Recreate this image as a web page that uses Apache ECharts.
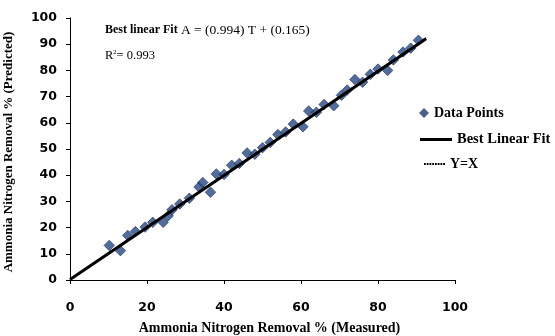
<!DOCTYPE html>
<html>
<head>
<meta charset="utf-8">
<script src="https://cdn.jsdelivr.net/npm/echarts@6/dist/echarts.min.js"></script>
<style>
  html, body { margin: 0; padding: 0; background: #fff; }
  #chart { width: 555px; height: 336px; }
</style>
</head>
<body>
<div id="chart"></div>
<script>
// Measured vs. predicted ammonia nitrogen removal (%)
const measured = [10.2, 13.1, 15.0, 17.0, 19.5, 21.5, 24.2, 25.5, 26.5, 28.5,
                  31.0, 33.5, 34.5, 36.5, 38.0, 40.0, 42.0, 44.0, 46.0, 48.0,
                  50.0, 52.0, 54.0, 56.0, 58.0, 60.5, 62.0, 64.0, 66.0, 68.5,
                  70.5, 72.0, 74.0, 76.0, 78.0, 80.0, 82.5, 84.0, 86.5, 88.5, 90.5];
const predicted = [13.2, 11.2, 17.0, 18.5, 20.2, 22.0, 22.0, 24.5, 26.8, 29.0,
                   31.2, 35.5, 37.2, 33.5, 40.5, 40.3, 43.8, 44.5, 48.5, 48.0,
                   50.5, 52.5, 55.5, 56.5, 59.5, 58.5, 64.5, 64.0, 67.0, 66.5,
                   70.5, 72.5, 76.5, 75.5, 78.5, 80.5, 80.0, 84.0, 87.0, 88.5, 91.5];

// Fitted line A = 0.994 T + 0.165 and the reference line Y = X
const fitSlope = 0.994;
const fitIntercept = 0.165;
const lineRange = [0, 92.5];

const xTicks = [0, 20, 40, 60, 80, 100];
const yTicks = [0, 10, 20, 30, 40, 50, 60, 70, 80, 90, 100];

const points = measured.map((m, i) => [m, predicted[i]]);
const fitLine = lineRange.map(t => [t, fitSlope * t + fitIntercept]);
const identityLine = lineRange.map(t => [t, t]);

const serif = 'Liberation Serif';
const tickFont = { fontFamily: 'DejaVu Sans', fontWeight: 'bold', fontSize: 12.5, color: '#000' };
const legendText = { fontFamily: serif, fontWeight: 'bold', fontSize: 14, color: '#000' };

// legend glyphs: a solid bar and a row of dots
const solidIcon = 'path://M0,0L32,0L32,3L0,3Z';
let dottedIcon = 'path://';
for (let i = 0; i < 8; i++) dottedIcon += 'M' + (i * 3) + ',0h2v2h-2z';

const chart = echarts.init(document.getElementById('chart'), null, { renderer: 'canvas' });
chart.setOption({
  animation: false,
  backgroundColor: '#fff',
  grid: { left: 70, right: 100, top: 18, bottom: 56, containLabel: false, outerBoundsMode: 'none' },
  xAxis: {
    type: 'value', min: xTicks[0], max: xTicks[xTicks.length - 1], interval: 20,
    name: 'Ammonia Nitrogen Removal % (Measured)',
    nameLocation: 'middle', nameGap: 41,
    nameTextStyle: { fontFamily: serif, fontWeight: 'bold', fontSize: 14, color: '#000', padding: [0, 0, 0, 14] },
    axisLine: { lineStyle: { color: '#000', width: 1 } },
    axisTick: { show: true, length: 4, lineStyle: { color: '#000' } },
    axisLabel: Object.assign({ margin: 21 }, tickFont),
    splitLine: { show: false }
  },
  yAxis: {
    type: 'value', min: yTicks[0], max: yTicks[yTicks.length - 1], interval: 10,
    name: 'Ammonia Nitrogen Removal % (Predicted)',
    nameLocation: 'middle', nameGap: 55,
    nameTextStyle: { fontFamily: serif, fontWeight: 'bold', fontSize: 13, color: '#000', padding: [0, 6, 0, 0] },
    axisLine: { show: true, lineStyle: { color: '#000', width: 1 } },
    axisTick: { show: true, length: 4, lineStyle: { color: '#000' } },
    axisLabel: Object.assign({ margin: 13 }, tickFont),
    splitLine: { show: false }
  },
  legend: [
    {
      left: 419, top: 106, padding: 0, itemWidth: 10, itemHeight: 10,
      textStyle: legendText,
      data: [{ name: 'Data Points', icon: 'diamond', itemStyle: { color: '#1d3768', borderWidth: 0 } }]
    },
    {
      left: 420, top: 132, padding: 0, itemWidth: 32, itemHeight: 12,
      textStyle: Object.assign({}, legendText, { fontSize: 14.5 }),
      data: [{ name: 'Best Linear Fit', icon: solidIcon, itemStyle: { color: '#000' } }]
    },
    {
      left: 424, top: 157, padding: 0, itemWidth: 21, itemHeight: 12,
      textStyle: legendText,
      data: [{ name: 'Y=X', icon: dottedIcon, itemStyle: { color: '#000' } }]
    }
  ],
  series: [
    {
      name: 'Y=X', type: 'line', data: identityLine, symbol: 'none', z: 1,
      lineStyle: { color: '#000', width: 1.2, type: [1.5, 1] }
    },
    {
      name: 'Data Points', type: 'scatter', data: points, symbol: 'diamond', symbolSize: 10.5, z: 2,
      itemStyle: { color: '#27497f', borderColor: '#1a3362', borderWidth: 0.8 }
    },
    {
      name: 'Best Linear Fit', type: 'line', data: fitLine, symbol: 'none', z: 3,
      lineStyle: { color: '#000', width: 3 }
    }
  ],
  graphic: [
    {
      type: 'text', left: 105, top: 23,
      style: {
        text: '{b|Best linear Fit} {n|A = (0.994) T + (0.165)}',
        rich: {
          b: { fontFamily: serif, fontWeight: 'bold', fontSize: 12, fill: '#000' },
          n: { fontFamily: serif, fontSize: 13.5, fill: '#000' }
        }
      }
    },
    {
      type: 'text', left: 105, top: 49,
      style: {
        text: '{n|R}{s|2}{n|= 0.993}',
        rich: {
          n: { fontFamily: serif, fontSize: 12.5, fill: '#000', verticalAlign: 'bottom' },
          s: { fontFamily: serif, fontSize: 6.5, fill: '#000', verticalAlign: 'top', padding: [0, 0, 6, 0] }
        }
      }
    }
  ]
});
</script>
</body>
</html>
